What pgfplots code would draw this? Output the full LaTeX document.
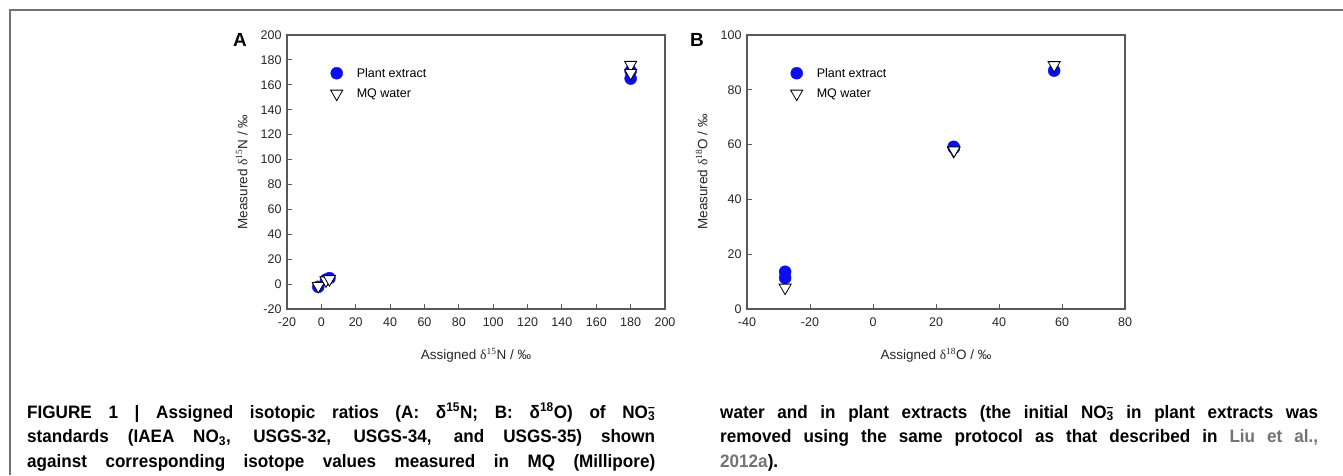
\documentclass[border=0pt]{standalone}
\usepackage{fontspec}
\setmainfont{Liberation Sans}
\newfontfamily\serifd{Liberation Serif}
\newfontfamily\capfont[FakeStretch=0.95]{Liberation Sans}
\usepackage{pgfplots}
\pgfplotsset{compat=1.18}
\definecolor{axgray}{gray}{0.35}
\definecolor{linkgray}{gray}{0.45}
\definecolor{frgray}{gray}{0.45}
\definecolor{ptblue}{rgb}{0.05,0.05,0.95}
\newcommand\nothree{NO\rlap{\textsuperscript{–}}\textsubscript{3}}
\pgfplotsset{
  myax/.style={
    scale only axis, width=378pt, height=274pt, anchor=south west,
    axis line style={axgray, line width=1.2pt},
    tick style={axgray, line width=0.9pt},
    tick align=inside, major tick length=5pt,
    xtick pos=left, ytick pos=left,
    ticklabel style={font=\fontsize{12.5}{12.5}\selectfont, text=black!85},
    xticklabel style={yshift=-5pt},
    yticklabel style={xshift=-2pt},
    /pgf/number format/assume math mode=true,
    /pgf/number format/set thousands separator={},
    xlabel style={font=\fontsize{13.5}{14}\selectfont, text=black!85, at={(axis description cs:0.5,-0.168)}, anchor=center},
    ylabel style={font=\fontsize{13.5}{14}\selectfont, text=black!85, at={(axis description cs:-0.12,0.5)}, anchor=center},
    legend style={draw=none, fill=none, font=\fontsize{12.5}{13}\selectfont, row sep=6pt, anchor=north west, at={(axis description cs:0.107,0.895)},
      /tikz/every odd column/.append style={column sep=12pt}},
    legend cell align=left,
  },
  plantst/.style={only marks, mark=*, mark size=6pt, mark options={draw=ptblue, fill=ptblue}},
  mqst/.style={only marks, mark=triangle*, mark size=7pt, mark options={rotate=180, fill=white, draw=black, line width=0.8pt}},
}
\begin{document}
\begin{tikzpicture}[x=1pt,y=1pt]
\useasboundingbox (0pt,0pt) rectangle (1343pt,475pt);
\draw[frgray, line width=2pt] (10pt,0pt) -- (10pt,465pt) -- (1343pt,465pt);

\begin{axis}[myax, at={(287pt,166pt)},
  xmin=-20, xmax=200, ymin=-20, ymax=200,
  xtick={-20,0,...,200}, ytick={-20,0,...,200},
  xlabel={Assigned {\serifd δ\textsuperscript{15}}N / ‰},
  ylabel={Measured {\serifd δ\textsuperscript{15}}N / ‰}]
\addplot[plantst] coordinates {(-1.8,-2.2) (2.7,3.6) (4.7,4.8) (180,165) (180,171)};
\addlegendentry{Plant extract}
\addplot[mqst] coordinates {(-1.8,-1.5) (2.7,3.0) (4.7,4.0) (180,176) (180,169.5)};
\addlegendentry{MQ water}
\end{axis}

\begin{axis}[myax, at={(747pt,166pt)},
  xmin=-40, xmax=80, ymin=0, ymax=100,
  xtick={-40,-20,...,80}, ytick={0,20,...,100},
  xlabel={Assigned {\serifd δ\textsuperscript{18}}O / ‰},
  ylabel={Measured {\serifd δ\textsuperscript{18}}O / ‰}]
\addplot[plantst] coordinates {(-27.9,13.6) (-27.9,11.3) (25.6,59.2) (25.7,58.8) (57.5,87.0)};
\addlegendentry{Plant extract}
\addplot[mqst] coordinates {(-27.9,7.8) (25.6,57.7) (25.7,57.9) (57.5,89.0)};
\addlegendentry{MQ water}
\end{axis}

\node[font=\bfseries\fontsize{19}{19}\selectfont] at (240pt,435pt) {A};
\node[font=\bfseries\fontsize{19}{19}\selectfont] at (697pt,435pt) {B};

\node[anchor=base west, inner sep=0pt] at (27pt,57pt) {\parbox[t]{628pt}{\capfont\bfseries\fontsize{18}{24.5}\selectfont
FIGURE 1 | Assigned isotopic ratios (A: δ\textsuperscript{15}N; B: δ\textsuperscript{18}O) of \nothree\linebreak
standards (IAEA NO\textsubscript{3}, USGS-32, USGS-34, and USGS-35) shown\linebreak
against corresponding isotope values measured in MQ (Millipore)\linebreak}};
\node[anchor=base west, inner sep=0pt] at (720pt,57pt) {\parbox[t]{598pt}{\capfont\bfseries\fontsize{18}{24.5}\selectfont
water and in plant extracts (the initial \nothree{} in plant extracts was\linebreak
removed using the same protocol as that described in \textcolor{linkgray}{Liu et al.,}\linebreak
\textcolor{linkgray}{2012a}).}};
\end{tikzpicture}
\end{document}
